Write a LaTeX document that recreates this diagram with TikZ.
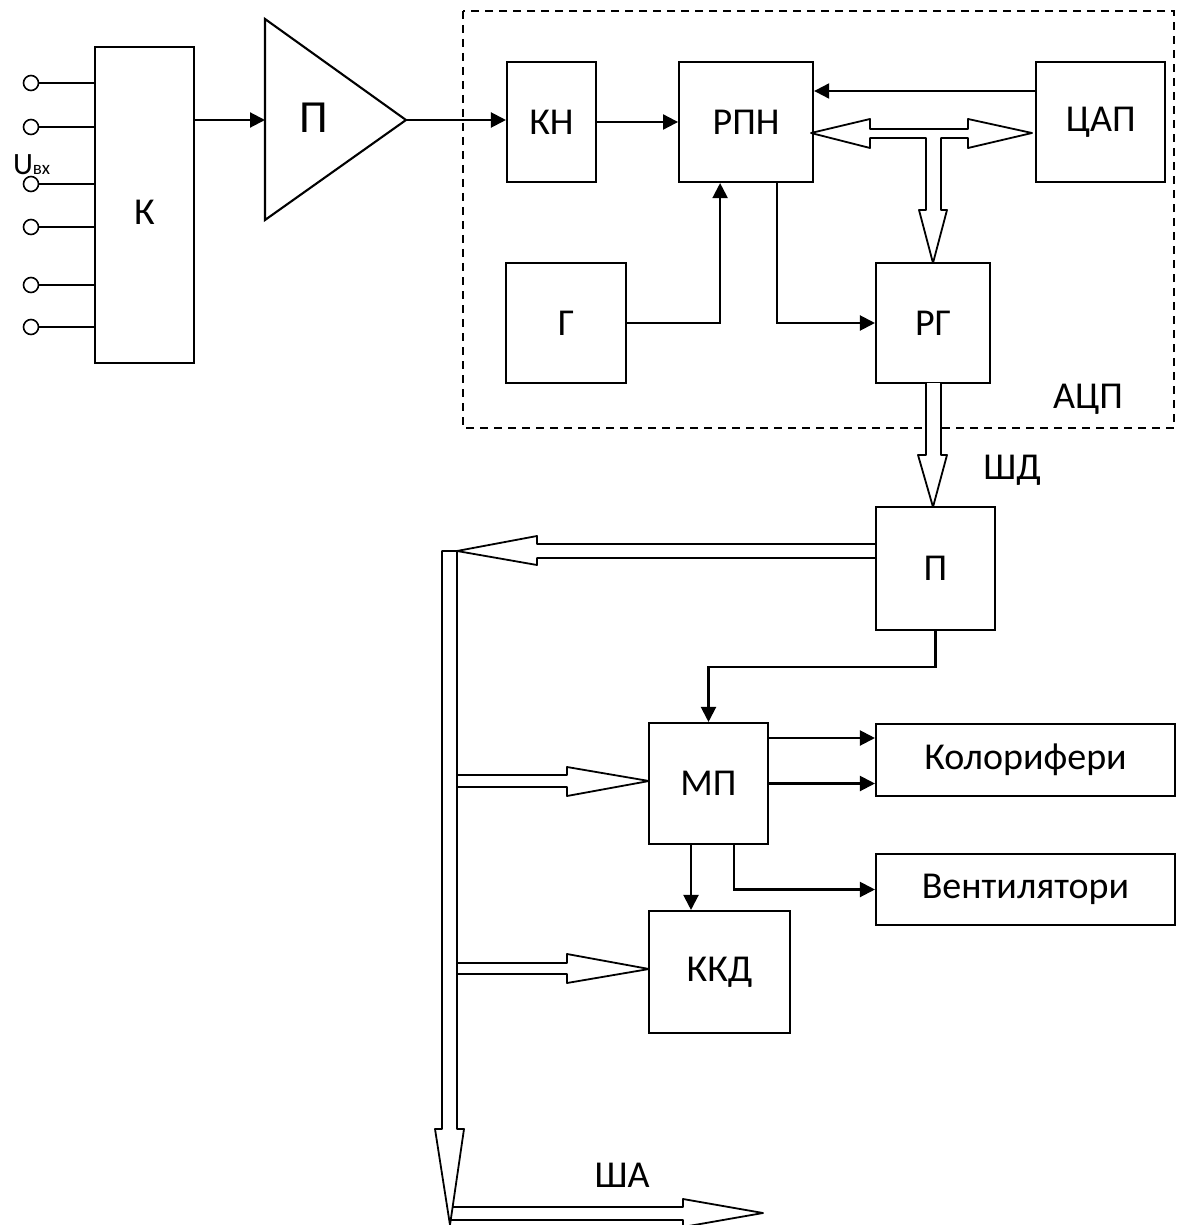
\documentclass[tikz,border=0pt]{standalone}
\usepackage{fontspec}
\setmainfont{Carlito}
\usetikzlibrary{arrows.meta,positioning,calc}

\begin{document}
\begin{tikzpicture}[
  x=0.5pt, y=-0.5pt,
  font=\fontsize{19}{21}\selectfont,
  line width=1.05pt,
  blk/.style 2 args={draw, inner sep=0pt, minimum width=#1, minimum height=#2},
  term/.style={draw, circle, minimum size=7.5pt, inner sep=0pt, line width=0.8pt},
  arr/.style={-{Triangle[length=7.5pt,width=7.5pt]}},
  hollow/.style={draw, line width=0.9pt, line join=round},
  frame/.style={draw, line width=0.75pt, dash pattern=on 4pt off 3pt}
]
  \useasboundingbox (0,0) rectangle (1178,1225);
  \clip (0,0) rectangle (1178,1225);

  % commutator and inputs
  \node[blk={49.5pt}{158pt}, text height=19.5pt] (K) at (144.5,205) {К};
  \foreach \yy in {83,127,184,227,285,327} {
    \node[term] (in\yy) at (31,\yy) {};
    \draw (in\yy) -- (in\yy -| K.west);
  }
  \node[anchor=base west, inner sep=0pt, font=\fontsize{15.5}{16}\selectfont] (uin) at (12,175) {U{\fontsize{9.5}{10}\selectfont вх}};

  % amplifier
  \coordinate (ampin) at (265,120);
  \coordinate (ampout) at (406,120);
  \draw (265,19) -- (ampout) -- (265,220) -- cycle;
  \node[font=\fontsize{23}{25}\selectfont] (amp) at (314,118) {П};

  % ADC
  \draw[frame] (463,11) rectangle (1174,428);
  \node[blk={44.5pt}{60pt}] (kn) at (551.5,122) {КН};
  \node[blk={67pt}{60pt}, right=40.5pt of kn] (rpn) {РПН};
  \node[blk={64.5pt}{60pt}, right=110.5pt of rpn] (dac) {ЦАП};
  \node[blk={60pt}{60pt}] (gen) at (566,323) {Г};
  \node[blk={57pt}{60pt}] (rg) at (933,323) {РГ};
  \node (adclbl) at (1088,399) {АЦП};

  % lower part
  \node[blk={59.5pt}{61.5pt}] (p2) at (935.5,568.5) {П};
  \node (sdlbl) at (1012,470) {ШД};
  \node[blk={59.5pt}{60.5pt}] (mp) at (708.5,783.5) {МП};
  \node[blk={149.5pt}{36pt}] (kol) at (1025.5,760) {Колорифери};
  \node[blk={149.5pt}{35.5pt}] (vent) at (1025.5,889.5) {Вентилятори};
  \node[blk={70.5pt}{61pt}] (kkd) at (719.5,972) {ККД};
  \node (salbl) at (622,1175) {ША};

  % signal lines
  \draw[arr] (K.east |- ampin) -- (ampin);
  \draw[arr] (ampout) -- (ampout -| kn.west);
  \draw[arr] (kn.east) -- (rpn.west);
  \draw[arr] ([yshift=15.5pt]dac.west) -- ([yshift=15.5pt]rpn.east);
  \draw[arr] (gen.east) -| ([xshift=-13pt]rpn.south);
  \draw[arr] ([xshift=15.5pt]rpn.south) |- (rg.west);
  \draw[arr] (p2.south) -- ++(0,36) -| (mp.north);
  \draw[arr] ([yshift=22.75pt]mp.east) -- ([yshift=22.75pt]mp.east -| kol.west);
  \draw[arr] (mp.east) -- (mp.east -| kol.west);
  \draw[arr] ([xshift=-8.75pt]mp.south) -- ([xshift=-8.75pt]mp.south |- kkd.north);
  \draw[arr] ([xshift=12.75pt]mp.south) |- (vent.west);

  % buses
  \draw[hollow] (811,133) -- (870,119) -- (870,129) -- (968,129) -- (968,119) -- (1032,133)
    -- (968,148) -- (968,138) -- (941,138) -- (941,210) -- (947,210) -- (933,263)
    -- (919,210) -- (926,210) -- (926,138) -- (870,138) -- (870,148) -- cycle;
  \draw[hollow, fill=white] (926,383) -- (926,455) -- (918,455) -- (933,507)
    -- (947,455) -- (941,455) -- (941,383);
  \draw[hollow] (876,544) -- (537,544) -- (537,536) -- (457,551) -- (537,565)
    -- (537,558) -- (876,558);
  \draw[hollow] (442,551) -- (457,551) -- (457,1129) -- (464,1129) -- (450,1225)
    -- (435,1129) -- (442,1129) -- cycle;
  \draw[hollow] (457,775) -- (567,775) -- (567,767) -- (649,781) -- (567,796)
    -- (567,787) -- (457,787);
  \draw[hollow] (457,963) -- (567,963) -- (567,954) -- (649,969) -- (567,983)
    -- (567,974) -- (457,974);
  \draw[hollow] (453,1207) -- (683,1207) -- (683,1199) -- (763,1213) -- (683,1227)
    -- (683,1220) -- (451,1220);
\end{tikzpicture}
\end{document}
